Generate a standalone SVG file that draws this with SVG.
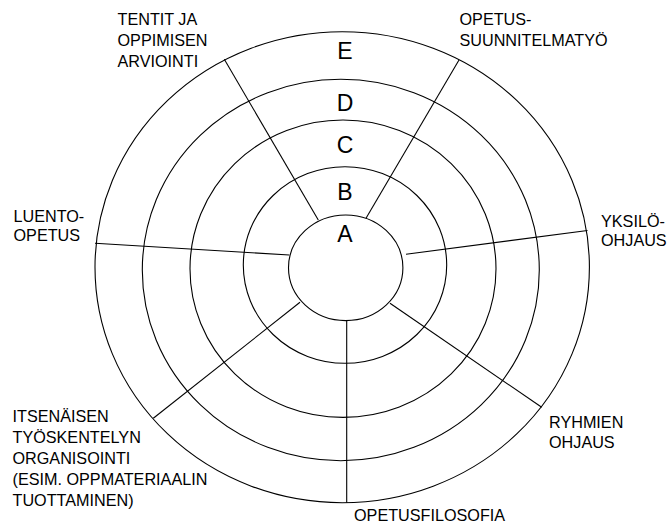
<svg xmlns="http://www.w3.org/2000/svg" width="672" height="526" viewBox="0 0 672 526">
<style>
.ring{fill:none;stroke:#000;stroke-width:1.1}
.spoke{stroke:#000;stroke-width:1.1;fill:none}
.lbl{font-family:"Liberation Sans",Arial,sans-serif;font-size:16.2px;fill:#000}
.lvl{font-family:"Liberation Sans",Arial,sans-serif;font-size:23px;fill:#000;text-anchor:middle}
</style>
<rect width="672" height="526" fill="#fff"/>
<g id="ring-E"><ellipse class="ring" cx="342.2" cy="267.2" rx="247.2" ry="235.5"/><text class="lvl" x="345" y="59.3">E</text></g>
<g id="ring-D"><ellipse class="ring" cx="340.8" cy="270" rx="198.5" ry="190.7"/><text class="lvl" x="345" y="110.7">D</text></g>
<g id="ring-C"><ellipse class="ring" cx="343" cy="268.7" rx="153" ry="148.7"/><text class="lvl" x="345" y="152.5">C</text></g>
<g id="ring-B"><ellipse class="ring" cx="345" cy="265" rx="101.7" ry="98.3"/><text class="lvl" x="345" y="200">B</text></g>
<g id="ring-A"><ellipse class="ring" cx="345.7" cy="267.8" rx="57.2" ry="52.8"/><text class="lvl" x="345" y="241.5">A</text></g>
<g id="connectors">
<line class="spoke" x1="318.3" y1="220" x2="224.3" y2="59.3"/>
<line class="spoke" x1="366" y1="218.3" x2="459" y2="60"/>
<line class="spoke" x1="406" y1="254.3" x2="587.5" y2="230.5"/>
<line class="spoke" x1="390" y1="303.3" x2="541.7" y2="407.3"/>
<line class="spoke" x1="346.7" y1="320.5" x2="346.7" y2="502.7"/>
<line class="spoke" x1="300" y1="302.3" x2="153.3" y2="418.3"/>
<line class="spoke" x1="289.3" y1="255" x2="95" y2="243.3"/>
</g>
<g id="label-tentit"><text class="lbl" x="117.5" y="25">TENTIT JA</text><text class="lbl" x="117.5" y="46">OPPIMISEN</text><text class="lbl" x="117.5" y="67">ARVIOINTI</text></g>
<g id="label-opetussuunnitelma"><text class="lbl" x="459.5" y="25">OPETUS-</text><text class="lbl" x="459.5" y="45.5">SUUNNITELMATYÖ</text></g>
<g id="label-yksilo"><text class="lbl" x="601" y="226.5">YKSILÖ-</text><text class="lbl" x="601" y="246">OHJAUS</text></g>
<g id="label-ryhmien"><text class="lbl" x="549" y="428">RYHMIEN</text><text class="lbl" x="549" y="448">OHJAUS</text></g>
<g id="label-opetusfilosofia"><text class="lbl" x="354" y="521">OPETUSFILOSOFIA</text></g>
<g id="label-itsenaisen"><text class="lbl" x="12.5" y="422.3">ITSENÄISEN</text><text class="lbl" x="12.5" y="443">TYÖSKENTELYN</text><text class="lbl" x="12.5" y="464">ORGANISOINTI</text><text class="lbl" x="12.5" y="484.7">(ESIM. OPPMATERIAALIN</text><text class="lbl" x="12.5" y="505.5">TUOTTAMINEN)</text></g>
<g id="label-luento"><text class="lbl" x="13.5" y="221.5">LUENTO-</text><text class="lbl" x="13.5" y="240.5">OPETUS</text></g>
</svg>
